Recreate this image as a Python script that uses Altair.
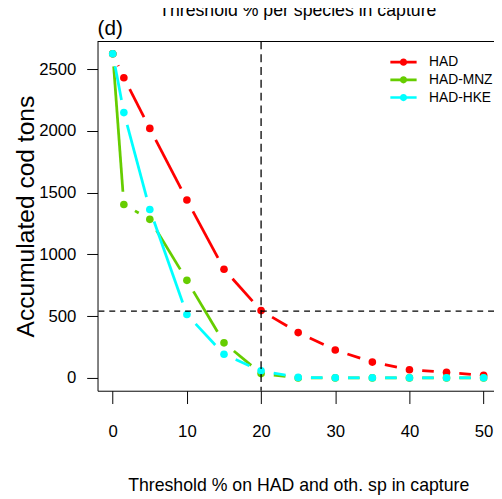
import altair as alt
import pandas as pd

# ---- data ----
x_vals = [0, 1.5, 5, 10, 15, 20, 25, 30, 35, 40, 45, 50]
had = [2625, 2430, 2020, 1440, 880, 545, 367, 226, 128, 66, 45, 21]
had_mnz = [2625, 1404, 1284, 790, 284, 35, 0, 0, 0, 0, 0, 0]
had_hke = [2625, 2148, 1364, 513, 191, 57, 4, 1, 1, 1, 1, 1]
series_names = ["HAD", "HAD-MNZ", "HAD-HKE"]
series_colors = ["#FF0000", "#66CD00", "#00FFFF"]
x_ticks = [0, 10, 20, 30, 40, 50]
y_ticks = [0, 500, 1000, 1500, 2000, 2500]
ref_x = [20]
ref_y = [540]
main_title = ["Threshold % per species in capture"]
panel_label = ["(d)"]
XTITLE = "Threshold % on HAD and oth. sp in capture"
YTITLE = "Accumulated cod tons"

# ---- layout ----
W, H = 403, 355
XD = [-2.05, 51.4]
YD = [-104, 2724]
KX = W / (XD[1] - XD[0])
KY = H / (YD[1] - YD[0])
G = 13  # gap (px) around points, like R type="b"

FA = "Liberation Sans, Arial, sans-serif"

rows = []
for name, vals in zip(series_names, [had, had_mnz, had_hke]):
    for xv, yv in zip(x_vals, vals):
        rows.append({"series": name, "x": xv, "y": yv})
df = pd.DataFrame(rows)

xscale = alt.Scale(domain=XD, nice=False, zero=False)
yscale = alt.Scale(domain=YD, nice=False, zero=False)
cscale = alt.Scale(domain=series_names, range=series_colors)

xaxis = alt.Axis(values=x_ticks, format="d", grid=False, tickSize=13, tickColor="black",
                 domainColor="black", labelFont=FA, labelFontSize=17, labelColor="black",
                 labelBaseline="middle", labelPadding=29, labelFlush=False,
                 titleFont=FA, titleFontSize=18,
                 titleFontWeight="normal", titleColor="black", titleX=204, titleY=101,
                 titleBaseline="alphabetic")
yaxis = alt.Axis(values=y_ticks, format="d", grid=False, tickSize=11, tickColor="black",
                 domainColor="black", labelFont=FA, labelFontSize=17, labelColor="black",
                 labelPadding=11, labelFlush=False, titleFont=FA, titleFontSize=25,
                 titleFontWeight="normal", titleColor="black", titleX=-65.5, titleY=177.5,
                 titleBaseline="alphabetic")


def xenc(field):
    return alt.X(field, type="quantitative", scale=xscale, axis=xaxis, title=XTITLE)


def yenc(field):
    return alt.Y(field, type="quantitative", scale=yscale, axis=yaxis, title=YTITLE)


LEG_PATH = ("M-1.23,-0.12H1.23V0.12H-1.23Z "
            "M0.34,0A0.34,0.34,0,1,1,-0.34,0A0.34,0.34,0,1,1,0.34,0Z")
legend = alt.Legend(title=None, orient="none", legendX=300, legendY=10,
                    symbolType=LEG_PATH, symbolSize=471, symbolStrokeWidth=0,
                    labelFont=FA, labelFontSize=14, labelColor="black",
                    labelOffset=15, padding=0, rowPadding=0, offset=0)

layers = []
for name, col in zip(series_names, series_colors):
    segs = (
        alt.Chart(df)
        .transform_filter(alt.datum.series == name)
        .transform_window(x_next="lead(x)", y_next="lead(y)",
                          sort=[alt.SortField("x", order="ascending")])
        .transform_filter("isValid(datum.x_next)")
        .transform_calculate(dxp=f"(datum.x_next - datum.x) * {KX}")
        .transform_calculate(dyp=f"(datum.y_next - datum.y) * {KY}")
        .transform_calculate(L="sqrt(datum.dxp * datum.dxp + datum.dyp * datum.dyp)")
        .transform_filter(f"datum.L > {2 * G}")
        .transform_calculate(f=f"{G} / datum.L")
        .transform_calculate(xs="datum.x + datum.f * (datum.x_next - datum.x)")
        .transform_calculate(ys="datum.y + datum.f * (datum.y_next - datum.y)")
        .transform_calculate(xe="datum.x_next - datum.f * (datum.x_next - datum.x)")
        .transform_calculate(ye="datum.y_next - datum.f * (datum.y_next - datum.y)")
        .mark_rule(color=col, strokeWidth=2.8, strokeCap="butt")
        .encode(x=xenc("xs"), y=yenc("ys"), x2="xe:Q", y2="ye:Q")
    )
    pts = (
        alt.Chart(df)
        .transform_filter(alt.datum.series == name)
        .mark_circle(size=60, opacity=1)
        .encode(x=xenc("x"), y=yenc("y"),
                color=alt.Color("series:N", scale=cscale, legend=legend))
    )
    layers += [segs, pts]

vline = (alt.Chart(pd.DataFrame({"v": ref_x}))
         .mark_rule(color="black", strokeWidth=1.3, strokeDash=[8, 5])
         .encode(x=xenc("v")))
hline = (alt.Chart(pd.DataFrame({"v": ref_y}))
         .mark_rule(color="black", strokeWidth=1.3, strokeDash=[6, 5])
         .encode(y=yenc("v")))
top_border = (alt.Chart(pd.DataFrame({"v": [YD[1]]}))
              .mark_rule(color="black", strokeWidth=1.2)
              .encode(y=yenc("v")))

title_txt = (alt.Chart(pd.DataFrame({"t": main_title}))
             .mark_text(font=FA, fontSize=18, color="black", align="center",
                        baseline="alphabetic")
             .encode(text="t:N", x=alt.value(203.5), y=alt.value(-26)))
label_txt = (alt.Chart(pd.DataFrame({"t": panel_label}))
             .mark_text(font=FA, fontSize=21, color="black", align="left",
                        baseline="alphabetic")
             .encode(text="t:N", x=alt.value(0), y=alt.value(-7)))

chart = (
    alt.layer(*layers, vline, hline, top_border, title_txt, label_txt)
    .properties(width=W, height=H,
                padding={"left": 91, "top": 30, "right": 0, "bottom": 106},
                autosize=alt.AutoSizeParams(type="none"))
    .configure_view(stroke="transparent")
)

chart.save("out.html", embed_options={"renderer": "svg", "actions": False})
